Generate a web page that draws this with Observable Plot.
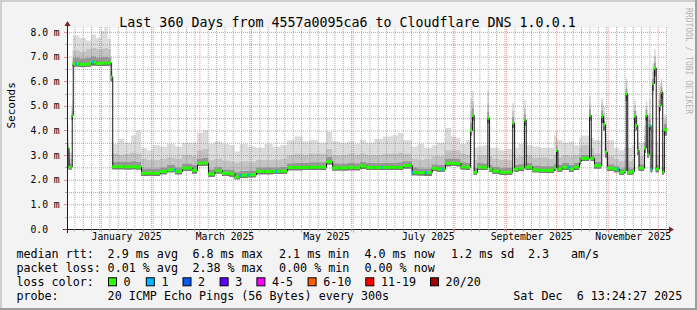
<!DOCTYPE html>
<html><head><meta charset="utf-8">
<script src="https://cdn.jsdelivr.net/npm/d3@7"></script>
<script src="https://cdn.jsdelivr.net/npm/@observablehq/plot@0.6"></script>
<style>body{margin:0;background:#fff}#chart svg{display:block}</style>
</head><body><div id="chart"></div>
<script>
const title = "Last 360 Days from 4557a0095ca6 to Cloudflare DNS 1.0.0.1";
const startTime = "2024-12-11T13:24:27Z";
const endTime = "2025-12-06T13:24:27Z";
const dayZero = "2024-12-11T00:00:00Z";

// days since dayZero where each step begins
const day = [
  0, 1.5, 3.4, 4, 8, 12, 15, 18, 21, 23,
  25, 26.8, 27.7, 31.5, 35, 39, 42, 45, 48.5, 52,
  56.4, 60.6, 65.4, 69.6, 75.6, 78.6, 82, 85.2, 89.1, 93.6,
  98, 101.1, 104.1, 109, 114, 119, 124, 128.5, 132.6, 137,
  142, 146, 151, 156, 159.7, 164, 169, 173, 176.4, 180,
  185, 190, 195, 199, 202.2, 207.4, 211, 215, 219.4, 222.6,
  227.4, 231, 234, 236.7, 240, 242.4, 243.6, 244.6, 246.6, 250,
  252.8, 253.8, 255.8, 260, 264, 267.7, 268.8, 271.5, 274.8, 275.8,
  279.7, 284, 289, 292.8, 294, 294.8, 297.7, 301.8, 304.8, 307.8,
  308.8, 313.8, 314.8, 316.8, 321.1, 322.2, 323.3, 324.5, 328.8, 331.8,
  334.8, 335.8, 336.7, 339.7, 340.8, 341.8, 342.7, 343.5, 346.8, 347.8,
  348.7, 349.7, 350.7, 351.7, 352.7, 353.8, 355.7, 356.8, 357.7, 358.7,
  361
];
// median rtt (ms)
const median = [
  3.30, 2.53, 4.63, 6.72, 6.70, 6.72, 6.80, 6.74, 6.75, 6.76,
  6.76, 6.19, 2.55, 2.55, 2.54, 2.55, 2.53, 2.28, 2.29, 2.28,
  2.35, 2.42, 2.35, 2.49, 2.40, 2.69, 2.70, 2.25, 2.38, 2.28,
  2.26, 2.13, 2.20, 2.22, 2.36, 2.35, 2.36, 2.37, 2.52, 2.52,
  2.52, 2.53, 2.53, 2.75, 2.50, 2.50, 2.52, 2.51, 2.58, 2.52,
  2.52, 2.52, 2.53, 2.52, 2.60, 2.31, 2.30, 2.31, 2.48, 2.45,
  2.69, 2.69, 2.68, 2.54, 2.53, 4.02, 4.63, 2.32, 2.53, 2.52,
  4.52, 2.45, 2.37, 2.32, 2.33, 4.32, 2.45, 2.49, 4.45, 2.53,
  2.42, 2.40, 2.40, 2.50, 3.21, 2.45, 2.53, 2.45, 2.53, 2.76,
  2.89, 4.63, 2.89, 2.59, 4.60, 4.25, 3.14, 2.49, 2.45, 2.32,
  2.38, 5.51, 2.32, 2.35, 4.60, 4.22, 3.21, 2.49, 3.30, 4.63,
  3.05, 4.22, 2.45, 5.92, 6.56, 2.45, 5.04, 5.58, 2.32, 4.05,
  4.05
];
// smoke: lowest ping
const smokeLow = [
  2.50, 2.42, 4.45, 6.60, 6.58, 6.60, 6.64, 6.62, 6.62, 6.63,
  6.62, 6.00, 2.43, 2.43, 2.42, 2.43, 2.42, 2.15, 2.16, 2.15,
  2.22, 2.30, 2.22, 2.36, 2.25, 2.56, 2.57, 2.12, 2.25, 2.15,
  2.12, 2.02, 2.07, 2.10, 2.22, 2.22, 2.23, 2.24, 2.38, 2.38,
  2.39, 2.40, 2.40, 2.62, 2.37, 2.37, 2.38, 2.38, 2.44, 2.40,
  2.39, 2.39, 2.40, 2.40, 2.46, 2.18, 2.17, 2.15, 2.35, 2.32,
  2.55, 2.56, 2.55, 2.42, 2.40, 3.80, 4.40, 2.20, 2.40, 2.39,
  4.30, 2.32, 2.24, 2.19, 2.20, 4.10, 2.32, 2.35, 4.20, 2.40,
  2.30, 2.28, 2.27, 2.37, 3.00, 2.32, 2.40, 2.32, 2.40, 2.62,
  2.76, 4.40, 2.76, 2.46, 4.30, 4.00, 2.90, 2.36, 2.30, 2.20,
  2.25, 5.20, 2.20, 2.22, 4.30, 4.00, 3.00, 2.36, 3.10, 4.40,
  2.90, 4.00, 2.30, 5.60, 6.20, 2.30, 4.80, 5.30, 2.20, 3.80,
  3.80
];
// smoke: top of the dark band
const smokeDark = [
  3.42, 2.66, 4.78, 6.95, 6.92, 6.95, 7.00, 6.95, 6.97, 6.98,
  6.95, 6.40, 2.72, 2.73, 2.72, 2.75, 2.72, 2.45, 2.45, 2.45,
  2.50, 2.60, 2.50, 2.65, 2.60, 2.85, 2.88, 2.42, 2.52, 2.42,
  2.40, 2.30, 2.35, 2.36, 2.50, 2.50, 2.50, 2.52, 2.66, 2.68,
  2.68, 2.70, 2.70, 2.92, 2.66, 2.65, 2.68, 2.66, 2.72, 2.68,
  2.67, 2.68, 2.68, 2.70, 2.75, 2.50, 2.45, 2.45, 2.62, 2.60,
  2.85, 2.85, 2.85, 2.70, 2.68, 4.30, 4.90, 2.48, 2.68, 2.66,
  4.75, 2.60, 2.52, 2.47, 2.48, 4.55, 2.60, 2.63, 4.65, 2.68,
  2.57, 2.55, 2.55, 2.65, 3.40, 2.60, 2.68, 2.60, 2.68, 2.90,
  3.00, 4.85, 3.00, 2.72, 4.80, 4.45, 3.30, 2.62, 2.55, 2.45,
  2.50, 5.70, 2.45, 2.48, 4.80, 4.40, 3.35, 2.62, 3.50, 4.85,
  3.20, 4.45, 2.60, 6.10, 6.75, 2.60, 5.25, 5.75, 2.48, 4.25,
  4.25
];
// smoke: top of the middle band
const smokeMid = [
  3.70, 2.85, 4.95, 7.25, 7.20, 7.30, 7.35, 7.30, 7.32, 7.35,
  7.30, 6.70, 3.05, 3.00, 3.05, 3.10, 3.05, 2.85, 2.80, 2.80,
  2.85, 2.90, 2.85, 3.00, 2.95, 3.20, 3.25, 2.80, 2.85, 2.78,
  2.75, 2.70, 2.75, 2.72, 2.80, 2.80, 2.82, 2.85, 3.00, 3.05,
  3.00, 3.05, 3.05, 3.25, 3.00, 3.00, 3.05, 3.00, 3.05, 3.00,
  3.00, 3.05, 3.05, 3.10, 3.05, 2.85, 2.80, 2.85, 2.95, 2.95,
  3.20, 3.20, 3.20, 3.05, 3.00, 4.80, 5.20, 2.80, 3.00, 3.00,
  5.10, 2.95, 2.85, 2.80, 2.80, 4.80, 2.90, 2.95, 4.90, 3.00,
  2.90, 2.90, 2.85, 3.00, 3.70, 2.90, 3.00, 2.95, 3.00, 3.30,
  3.40, 5.10, 3.30, 3.05, 5.10, 4.70, 3.60, 2.95, 2.85, 2.75,
  2.80, 6.00, 2.75, 2.80, 5.00, 4.60, 3.60, 2.95, 3.80, 5.00,
  3.60, 4.70, 3.00, 6.40, 7.00, 3.00, 5.50, 5.95, 2.90, 4.45,
  4.45
];
// smoke: highest ping
const smokeHigh = [
  4.25, 3.10, 5.20, 7.85, 7.75, 7.65, 7.90, 7.75, 8.05, 8.20,
  7.70, 7.00, 3.45, 3.65, 3.50, 3.80, 4.00, 3.30, 3.20, 3.40,
  3.35, 3.45, 3.35, 3.50, 3.50, 3.90, 4.00, 3.45, 3.55, 3.45,
  3.40, 3.15, 3.45, 3.35, 3.30, 3.45, 3.35, 3.40, 3.60, 3.75,
  3.55, 3.60, 3.50, 3.95, 3.55, 3.50, 3.55, 3.45, 3.60, 3.50,
  3.65, 3.75, 3.80, 3.90, 3.60, 3.35, 3.45, 3.30, 3.40, 3.50,
  4.10, 3.75, 3.70, 3.45, 3.60, 5.30, 5.60, 3.30, 3.35, 3.40,
  5.60, 3.30, 3.30, 3.20, 3.25, 5.10, 3.30, 3.45, 5.25, 3.40,
  3.35, 3.30, 3.30, 3.80, 4.00, 3.60, 3.50, 3.55, 3.40, 3.70,
  3.80, 5.40, 3.70, 3.60, 5.30, 5.00, 3.90, 3.60, 3.30, 3.20,
  3.30, 6.15, 3.30, 3.40, 5.25, 4.80, 3.90, 3.50, 4.20, 5.20,
  4.00, 5.30, 3.60, 6.70, 7.30, 3.50, 5.90, 6.10, 3.40, 4.65,
  4.65
];
// packet loss events (day since dayZero, lost pings of 20)
const lossDay = [5.4, 15.6, 64.8, 104.4, 109.2, 125.4, 189.4, 207.6, 215.4, 225.4, 283.8, 300.6, 330.4, 349.7, 350.7];
const lossCount = [1, 1, 1, 1, 1, 1, 1, 1, 1, 1, 1, 1, 1, 1, 1];

const lossLabels = ["0", "1", "2", "3", "4-5", "6-10", "11-19", "20/20"];
const lossColors = ["#26ff00", "#00b8ff", "#0059ff", "#5e00ff", "#ff00ff", "#ff5e00", "#ff0000", "#a10000"];

const yTicks = [0, 1, 2, 3, 4, 5, 6, 7, 8];
const yTickLabels = ["0.0", "1.0 m", "2.0 m", "3.0 m", "4.0 m", "5.0 m", "6.0 m", "7.0 m", "8.0 m"];
const monthLabels = ["January 2025", "March 2025", "May 2025", "July 2025", "September 2025", "November 2025"];
const monthLabelDates = ["2025-01-16", "2025-03-16", "2025-05-16", "2025-07-16", "2025-09-16", "2025-11-16"];

const rttStats = ["2.9 ms avg", "6.8 ms max", "2.1 ms min", "4.0 ms now", "1.2 ms sd", "2.3", "am/s"];
const lossStats = ["0.01 % avg", "2.38 % max", "0.00 % min", "0.00 % now"];
const probeText = "20 ICMP Echo Pings (56 Bytes) every 300s";
const stampText = "Sat Dec  6 13:24:27 2025";

// ---- build tables ----
const t0 = new Date(dayZero).getTime();
const toDate = d => new Date(t0 + d * 864e5);
const rows = day.map((d, i) => ({t: toDate(d), med: median[i], lo: smokeLow[i], dark: smokeDark[i], mid: smokeMid[i], hi: smokeHigh[i]}));
const segs = rows.slice(0, -1).map((r, i) => ({t1: r.t, t2: rows[i + 1].t, med: r.med, loss: "0"}));
const lossLabelOf = c => c <= 0 ? "0" : c === 1 ? "1" : c === 2 ? "2" : c === 3 ? "3" : c <= 5 ? "4-5" : c <= 10 ? "6-10" : c <= 19 ? "11-19" : "20/20";
const bis = d3.bisector(d => d).right;
const lossSegs = lossDay.map((d, i) => {
  const k = Math.max(0, bis(day, d) - 1);
  const e = Math.min(d + 1.2, day[k + 1]);
  return {t1: toDate(d), t2: toDate(e), med: median[k], loss: lossLabelOf(lossCount[i])};
});

const x0 = new Date(startTime), x1 = new Date(endTime);
const majorDates = d3.utcMonth.range(x0, x1);
const minorDates = d3.utcDay.every(5).range(x0, x1).filter(d => d.getUTCDate() !== 1);
const yMinor = d3.range(0.5, 8.2, 1);

const FONT = "'DejaVu Sans Mono', monospace";
const GRID = "rgba(143,143,143,0.75)";
const MGRID = "rgba(222,79,79,0.6)";

const svg = Plot.plot({
  width: 697, height: 310,
  marginLeft: 67, marginRight: 30, marginTop: 27, marginBottom: 81,
  x: {type: "utc", domain: [x0, x1], axis: null},
  y: {domain: [0, 8.2], axis: null},
  color: {type: "ordinal", domain: lossLabels, range: lossColors},
  style: {background: "#f3f3f3", fontFamily: FONT, overflow: "visible"},
  marks: [
    Plot.frame({fill: "#ffffff", stroke: null}),
    Plot.areaY(rows, {x: "t", y1: "lo", y2: "hi", curve: "step-after", fill: "#dcdcdc", clip: true}),
    Plot.areaY(rows, {x: "t", y1: "lo", y2: "mid", curve: "step-after", fill: "#c3c3c3", clip: true}),
    Plot.areaY(rows, {x: "t", y1: "lo", y2: "dark", curve: "step-after", fill: "#979797", clip: true}),
    Plot.areaY(rows, {x: "t", y1: "lo", y2: "med", curve: "step-after", fill: "#747474", clip: true}),
    Plot.ruleX(minorDates, {stroke: GRID, strokeDasharray: "1,1"}),
    Plot.ruleX(majorDates, {stroke: MGRID, strokeDasharray: "1,1"}),
    Plot.ruleY(yMinor, {stroke: GRID, strokeDasharray: "1,1"}),
    Plot.ruleY(yTicks.slice(1), {stroke: MGRID, strokeDasharray: "1,1"}),
    Plot.line(rows, {x: "t", y: "med", curve: "step-after", stroke: "#151515", strokeWidth: 1, clip: true}),
    Plot.ruleY(segs, {x1: "t1", x2: "t2", y: "med", stroke: "loss", strokeWidth: 3, clip: true}),
    Plot.ruleY(lossSegs, {x1: "t1", x2: "t2", y: "med", stroke: "loss", strokeWidth: 3, clip: true}),
    Plot.ruleY([0], {stroke: "#1f1f1f", insetLeft: -4, insetRight: -3}),
    Plot.ruleX([x0], {stroke: "#1f1f1f", insetTop: -3, insetBottom: -4}),
    Plot.text(yTicks, {y: d => d, text: (d, i) => yTickLabels[i], frameAnchor: "left", textAnchor: "start", dx: -37, fontSize: 9.7, fill: "#000"}),
    Plot.text(monthLabelDates, {x: d => new Date(d + "T00:00:00Z"), text: (d, i) => monthLabels[i], frameAnchor: "bottom", dy: 10.2, fontSize: 9.7, fill: "#000"}),
    Plot.text([title], {frameAnchor: "top", dx: -20, dy: -9.5, fontSize: 13.3, fill: "#000"}),
    Plot.text(["Seconds"], {frameAnchor: "left", rotate: -90, dx: -56, fontSize: 11, fill: "#000"})
  ]
});
document.getElementById("chart").append(svg);

const X = svg.scale("x"), Y = svg.scale("y");
const g = d3.select(svg).append("g").attr("font-family", FONT).attr("text-anchor", "start");
const yBase = Y.apply(0), xLeft = X.apply(x0), xRight = X.apply(x1), yTop = Y.apply(8.2);

// axis ticks
minorDates.forEach(d => g.append("line").attr("x1", Math.round(X.apply(d)) + 0.5).attr("x2", Math.round(X.apply(d)) + 0.5).attr("y1", yBase).attr("y2", yBase + 2.5).attr("stroke", GRID));
majorDates.forEach(d => g.append("line").attr("x1", Math.round(X.apply(d)) + 0.5).attr("x2", Math.round(X.apply(d)) + 0.5).attr("y1", yBase).attr("y2", yBase + 3.5).attr("stroke", MGRID));
yMinor.forEach(v => g.append("line").attr("x1", xLeft - 2).attr("x2", xLeft).attr("y1", Math.round(Y.apply(v)) + 0.5).attr("y2", Math.round(Y.apply(v)) + 0.5).attr("stroke", GRID));
yTicks.forEach(v => g.append("line").attr("x1", xLeft - 3).attr("x2", xLeft).attr("y1", Math.round(Y.apply(v)) + 0.5).attr("y2", Math.round(Y.apply(v)) + 0.5).attr("stroke", MGRID));

// arrows
const ax = xLeft + 0.5;
g.append("path").attr("d", `M${ax - 3},${yTop - 1}L${ax + 3},${yTop - 1}L${ax},${yTop - 6}Z`).attr("fill", "#801f1f");
const ay = yBase + 0.5;
g.append("path").attr("d", `M${xRight + 2},${ay - 3}L${xRight + 2},${ay + 3}L${xRight + 7},${ay}Z`).attr("fill", "#801f1f");

// legend
const LFS = 11.7;
const txt = (x, y, s) => g.append("text").attr("x", x).attr("y", y).attr("font-size", LFS).attr("fill", "#000").attr("text-anchor", "start").style("white-space", "pre").text(s);
const cols = [107.6, 192.4, 279, 364.4, 451, 528, 571];
const lineY = [258.3, 272.2, 286.3, 300.2];
txt(16.4, lineY[0], "median rtt:");
rttStats.forEach((s, i) => txt(cols[i], lineY[0], s));
txt(16.4, lineY[1], "packet loss:");
lossStats.forEach((s, i) => txt(cols[i], lineY[1], s));
txt(16.4, lineY[2], "loss color:");
const boxX = [108, 145.8, 182.5, 219.6, 256.4, 307.6, 365.3, 430];
lossLabels.forEach((lab, i) => {
  g.append("rect").attr("x", boxX[i] + 0.5).attr("y", lineY[2] - 8.5).attr("width", 8).attr("height", 8).attr("fill", lossColors[i]).attr("stroke", "#000").attr("stroke-width", 1);
  txt(boxX[i] + 15.6, lineY[2], lab);
});
txt(16.4, lineY[3], "probe:");
txt(107.6, lineY[3], probeText);
txt(513.3, lineY[3], stampText);

// watermark
g.append("text").attr("transform", "translate(685.5,8) rotate(90)").attr("text-anchor", "start").attr("font-size", 8).attr("fill", "#b4b4b4").text("RRDTOOL / TOBI OETIKER");

// bevel border
g.append("rect").attr("x", 0).attr("y", 0).attr("width", 697).attr("height", 2).attr("fill", "#cfcfcf");
g.append("rect").attr("x", 0).attr("y", 0).attr("width", 2).attr("height", 310).attr("fill", "#cfcfcf");
g.append("rect").attr("x", 0).attr("y", 308).attr("width", 697).attr("height", 2).attr("fill", "#9e9e9e");
g.append("rect").attr("x", 695).attr("y", 0).attr("width", 2).attr("height", 310).attr("fill", "#9e9e9e");
</script>
</body></html>
